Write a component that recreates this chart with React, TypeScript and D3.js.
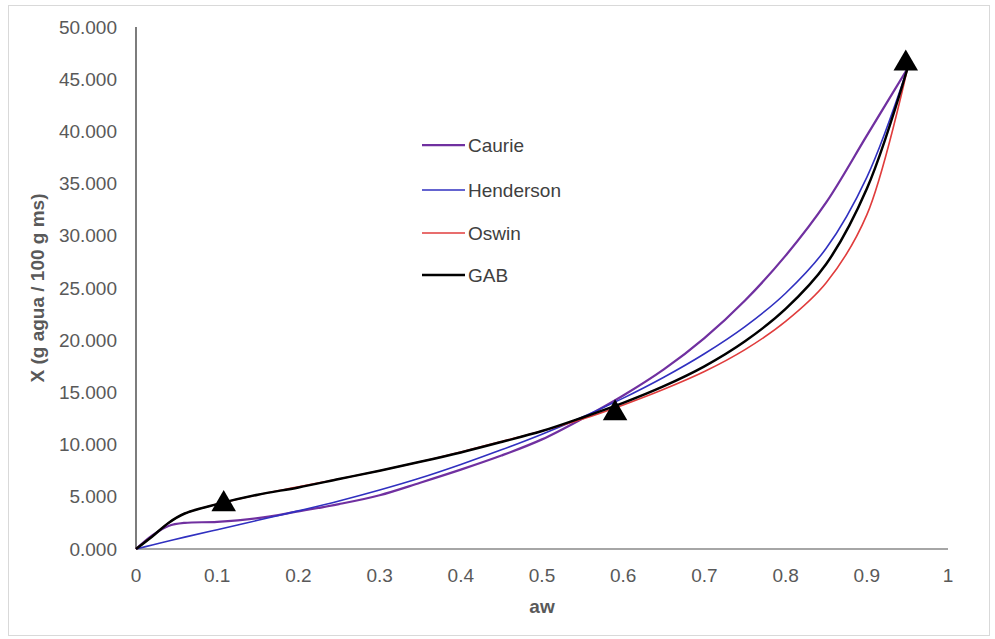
import { useEffect, useRef } from "react";
import * as d3 from "d3";

// aw values shared by the model curves
const awSteps = [0, 0.02, 0.04, 0.06, 0.1, 0.15, 0.2, 0.25, 0.3, 0.35, 0.4, 0.45, 0.5, 0.55, 0.6, 0.65, 0.7, 0.75, 0.8, 0.85, 0.9, 0.95];

const caurieX = [0, 1.3, 2.2, 2.5, 2.6, 2.95, 3.6, 4.3, 5.15, 6.35, 7.6, 8.95, 10.5, 12.5, 14.7, 17.2, 20.2, 23.8, 28.1, 33.2, 39.6, 46.0];
const hendersonX = [0, 0.38, 0.76, 1.14, 1.85, 2.75, 3.65, 4.6, 5.65, 6.8, 8.1, 9.5, 11.0, 12.65, 14.45, 16.45, 18.7, 21.3, 24.5, 28.8, 35.6, 46.0];
const oswinX = [0, 1.2, 2.5, 3.4, 4.3, 5.2, 5.95, 6.7, 7.5, 8.35, 9.3, 10.3, 11.3, 12.45, 13.8, 15.3, 17.0, 19.1, 21.8, 25.5, 32.0, 46.0];
const gabX = [0, 1.2, 2.5, 3.4, 4.3, 5.2, 5.9, 6.7, 7.5, 8.35, 9.25, 10.25, 11.3, 12.6, 14.0, 15.6, 17.5, 19.9, 23.0, 27.3, 34.5, 46.0];

// experimental points (triangles)
const expAw = [0.108, 0.59, 0.948];
const expX = [4.3, 13.0, 46.5];

const seriesNames = ["Caurie", "Henderson", "Oswin", "GAB"];
const seriesColors = ["#7030a0", "#3030c0", "#e03c3c", "#000000"];
const seriesWidths = [2.25, 1.6, 1.6, 2.5];

const xTicks = [0, 0.1, 0.2, 0.3, 0.4, 0.5, 0.6, 0.7, 0.8, 0.9, 1];
const yTicks = [0, 5, 10, 15, 20, 25, 30, 35, 40, 45, 50];

export default function App() {
    const svgRef = useRef<SVGSVGElement>(null);

    useEffect(() => {
        const svg = d3.select(svgRef.current);
        svg.selectAll("*").remove();

        const width = 995;
        const height = 639;
        const margin = { top: 27, right: 47, bottom: 90, left: 136 };
        const font = "Liberation Sans, Arial, sans-serif";

        svg.attr("width", width).attr("height", height);

        // outer frame
        svg.append("rect")
            .attr("x", 8.5).attr("y", 5.5)
            .attr("width", 981).attr("height", 630)
            .attr("fill", "#fff")
            .attr("stroke", "#d9d9d9");

        const x = d3.scaleLinear().domain([0, 1]).range([margin.left, width - margin.right]);
        const y = d3.scaleLinear().domain([0, 50]).range([height - margin.bottom, margin.top]);

        // y tick labels
        svg.append("g")
            .selectAll("text")
            .data(yTicks)
            .enter()
            .append("text")
            .attr("x", margin.left - 19)
            .attr("y", d => y(d))
            .attr("dy", "0.35em")
            .attr("text-anchor", "end")
            .attr("font-family", font)
            .attr("font-size", 19)
            .attr("fill", "#595959")
            .text(d => d3.format(".3f")(d));

        // x tick labels
        svg.append("g")
            .selectAll("text")
            .data(xTicks)
            .enter()
            .append("text")
            .attr("x", d => x(d))
            .attr("y", y(0) + 33)
            .attr("text-anchor", "middle")
            .attr("font-family", font)
            .attr("font-size", 19)
            .attr("fill", "#595959")
            .text(d => String(d));

        // axes lines
        svg.append("line")
            .attr("x1", x(0)).attr("x2", x(1))
            .attr("y1", y(0)).attr("y2", y(0))
            .attr("stroke", "#a6a6a6")
            .attr("stroke-width", 2);
        svg.append("line")
            .attr("x1", x(0)).attr("x2", x(0))
            .attr("y1", y(0)).attr("y2", y(50))
            .attr("stroke", "#262626")
            .attr("stroke-width", 1.2);

        // axis titles
        svg.append("text")
            .attr("x", (x(0) + x(1)) / 2)
            .attr("y", 613)
            .attr("text-anchor", "middle")
            .attr("font-family", font)
            .attr("font-size", 19)
            .attr("font-weight", "bold")
            .attr("fill", "#595959")
            .text("aw");
        svg.append("text")
            .attr("transform", `translate(44,${(y(0) + y(50)) / 2}) rotate(-90)`)
            .attr("text-anchor", "middle")
            .attr("font-family", font)
            .attr("font-size", 19)
            .attr("font-weight", "bold")
            .attr("fill", "#595959")
            .text("X (g agua / 100 g ms)");

        // model curves, smoothed like Excel's "smooth line"
        const seriesValues = [caurieX, hendersonX, oswinX, gabX];
        const line = d3.line<[number, number]>()
            .x(d => x(d[0]))
            .y(d => y(d[1]))
            .curve(d3.curveCatmullRom.alpha(0.5));

        seriesValues.forEach((vals, i) => {
            const pts = awSteps.map((a, j) => [a, vals[j]] as [number, number]);
            svg.append("path")
                .datum(pts)
                .attr("fill", "none")
                .attr("stroke", seriesColors[i])
                .attr("stroke-width", seriesWidths[i])
                .attr("stroke-linejoin", "round")
                .attr("d", line);
        });

        // experimental triangles
        svg.append("g")
            .selectAll("path")
            .data(expAw.map((a, i) => [a, expX[i]]))
            .enter()
            .append("path")
            .attr("transform", d => `translate(${x(d[0])},${y(d[1])})`)
            .attr("d", d3.symbol().type(d3.symbolTriangle).size(260))
            .attr("fill", "#000");

        // legend
        const legend = svg.append("g").attr("transform", "translate(422,145)");
        const rowGap = [0, 45, 88, 130];
        seriesNames.forEach((name, i) => {
            const row = legend.append("g").attr("transform", `translate(0,${rowGap[i]})`);
            row.append("line")
                .attr("x1", 0).attr("x2", 43)
                .attr("stroke", seriesColors[i])
                .attr("stroke-width", seriesWidths[i]);
            row.append("text")
                .attr("x", 46)
                .attr("dy", "0.35em")
                .attr("font-family", font)
                .attr("font-size", 19)
                .attr("fill", "#404040")
                .text(name);
        });
    }, []);

    return (
        <div style={{ position: "absolute", left: 0, top: 0 }}>
            <svg ref={svgRef} style={{ display: "block" }} />
        </div>
    );
}
